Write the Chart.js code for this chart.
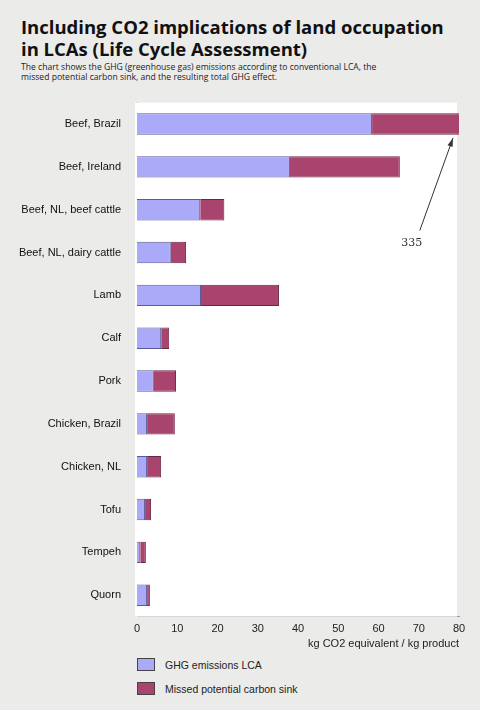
<!DOCTYPE html>
<html><head><meta charset="utf-8">
<script src="https://cdn.jsdelivr.net/npm/chart.js@4"></script>
<style>
body{margin:0;background:#ebebea;font-family:"Open Sans",sans-serif;width:480px;height:710px;position:relative;overflow:hidden}
h1{position:absolute;left:21px;top:16px;margin:0;font-size:18.5px;line-height:22px;font-weight:700;color:#111}
p.sub{position:absolute;left:21px;top:62px;margin:0;font-size:8.6px;line-height:10px;color:#222}
#wrap{position:absolute;left:0;top:88px;width:480px;height:567px}
.leg{position:absolute;left:137px;font-size:10.5px;font-family:Arial,"Liberation Sans",sans-serif;color:#222}
.leg span{display:inline-block;width:16px;height:11px;border:1px solid #444;vertical-align:-2px;margin-right:10px}
</style></head><body>
<h1>Including CO2 implications of land occupation<br>in LCAs (Life Cycle Assessment)</h1>
<p class="sub">The chart shows the GHG (greenhouse gas) emissions according to conventional LCA, the<br>missed potential carbon sink, and the resulting total GHG effect.</p>
<div id="wrap"><canvas id="c"></canvas></div>
<div class="leg" style="top:658px"><span style="background:#aaaaf8"></span>GHG emissions LCA</div>
<div class="leg" style="top:682px"><span style="background:#a8446e"></span>Missed potential carbon sink</div>
<script>
const categories=["Beef, Brazil","Beef, Ireland","Beef, NL, beef cattle","Beef, NL, dairy cattle","Lamb","Calf","Pork","Chicken, Brazil","Chicken, NL","Tofu","Tempeh","Quorn"];
const lcaValues=[58.4,38,15.7,8.4,15.9,6,4.2,2.5,2.5,2,0.8,2.5];
const sinkValues=[276.6,27.3,6,3.8,19.4,2,5.5,6.9,3.5,1.5,1.4,0.7];
const xTicks=[0,10,20,30,40,50,60,70,80];
const annotation={label:"335",tipX:80,tailX:71};
const bg={id:'bg',beforeDatasetsDraw(ch){const a=ch.chartArea,c=ch.ctx;c.save();c.fillStyle='#fff';c.fillRect(a.left-2,a.top,a.right-a.left,a.bottom-a.top);c.restore();},
afterDatasetsDraw(ch){const c=ch.ctx,x=ch.scales.x,y=ch.scales.y;const tx=x.getPixelForValue(annotation.tipX)-6,ty=y.getPixelForValue(0)+14;const sx=x.getPixelForValue(annotation.tailX)-3,sy=y.getPixelForValue(3)-22;
c.save();c.strokeStyle='#333';c.fillStyle='#333';c.lineWidth=1;c.beginPath();c.moveTo(sx,sy);c.lineTo(tx,ty);c.stroke();
const ang=Math.atan2(ty-sy,tx-sx);c.beginPath();c.moveTo(tx,ty);c.lineTo(tx-9*Math.cos(ang-0.3),ty-9*Math.sin(ang-0.3));c.lineTo(tx-9*Math.cos(ang+0.3),ty-9*Math.sin(ang+0.3));c.fill();
c.font='11px "DejaVu Serif",serif';c.textAlign='center';c.fillText(annotation.label,sx-8,sy+15);c.restore();}};
new Chart(document.getElementById('c'),{type:'bar',
data:{labels:categories,datasets:[
{label:'GHG emissions LCA',data:lcaValues,backgroundColor:'#aaaaf8',borderColor:'#5a5a9a',borderWidth:1},
{label:'Missed potential carbon sink',data:sinkValues,backgroundColor:'#a8446e',borderColor:'#6a2545',borderWidth:1}]},
options:{indexAxis:'y',responsive:true,maintainAspectRatio:false,animation:false,
categoryPercentage:0.5,barPercentage:1,
layout:{padding:{top:6,right:21,bottom:0}},
plugins:{legend:{display:false},tooltip:{enabled:false}},
scales:{x:{stacked:true,min:0,max:80,afterBuildTicks(s){s.ticks=xTicks.map(v=>({value:v}));},
grid:{display:false,drawTicks:true,tickLength:4},border:{color:'#999'},
ticks:{color:'#222',font:{family:'Arial',size:11},padding:2,maxRotation:0},
title:{display:true,text:'kg CO2 equivalent / kg product',align:'end',color:'#222',font:{family:'Arial',size:11},padding:{top:0}}},
y:{stacked:true,afterFit(s){s.width=137;},grid:{display:false},border:{color:'#999'},
ticks:{color:'#111',font:{family:'Arial',size:11},padding:8}}}},
plugins:[bg]});
</script></body></html>
